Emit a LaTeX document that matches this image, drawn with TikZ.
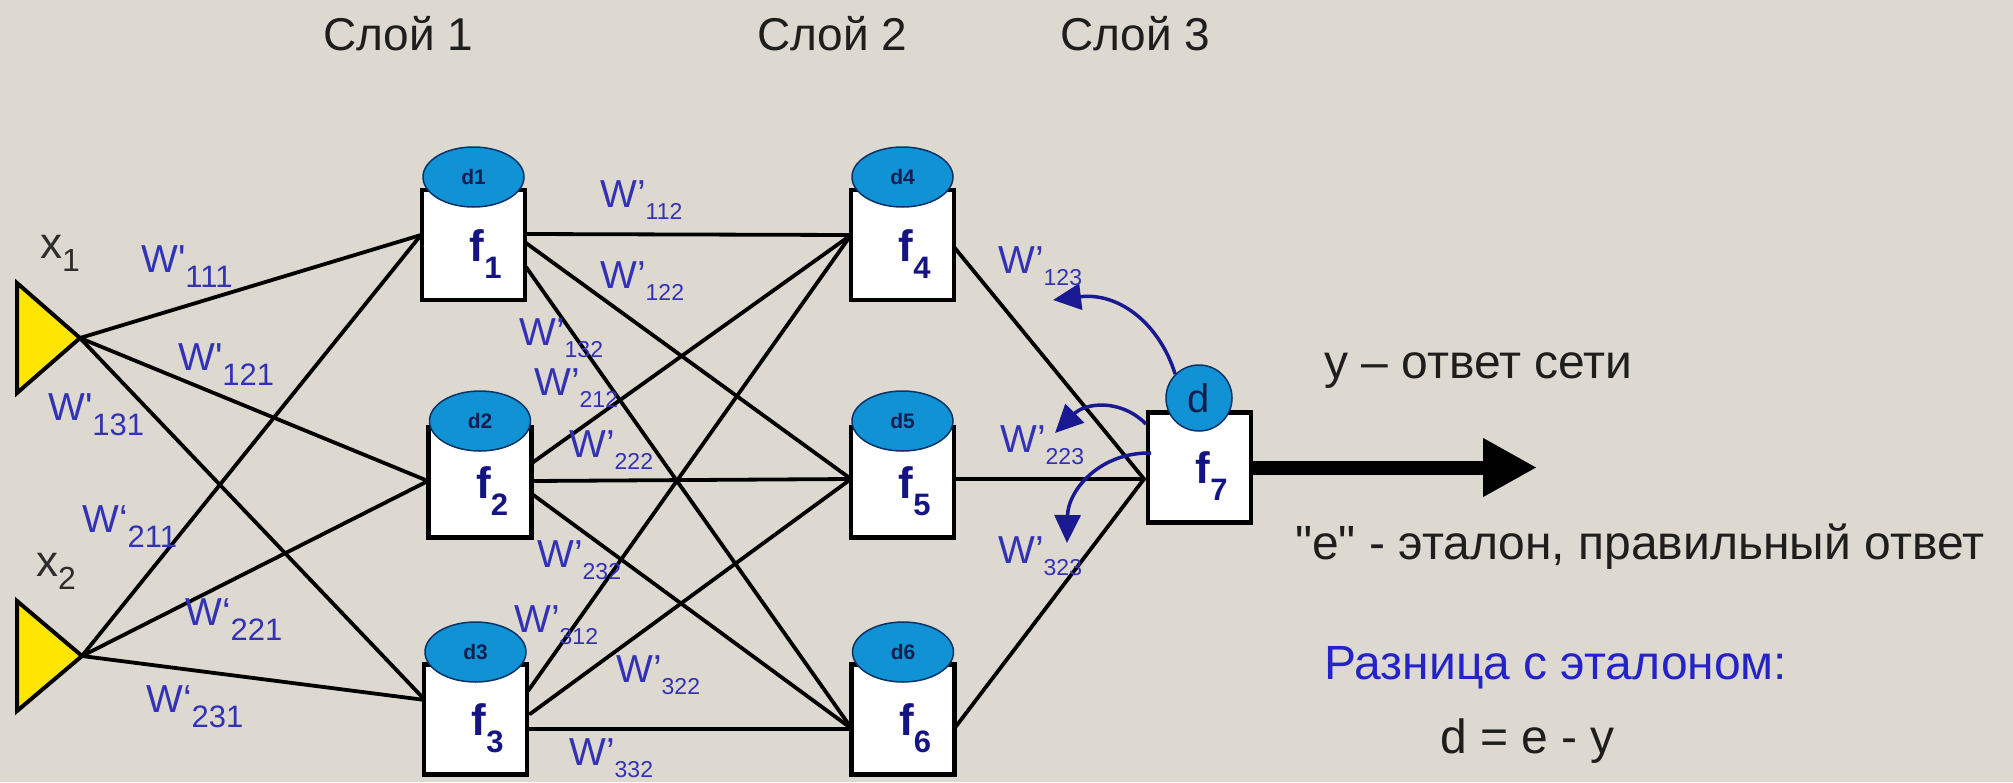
\documentclass[tikz,border=0pt]{standalone}
\usepackage{fontspec}
\setmainfont{Liberation Sans}
\usetikzlibrary{arrows.meta,shapes.geometric}
\pgfdeclarelayer{bgl}
\pgfdeclarelayer{wires}
\pgfsetlayers{bgl,wires,main}
\definecolor{bgc}{RGB}{222,217,208}
\definecolor{wblue}{RGB}{50,50,180}
\definecolor{fblue}{RGB}{20,20,130}
\definecolor{dfill}{RGB}{16,146,212}
\definecolor{dline}{RGB}{10,50,100}
\definecolor{dtext}{RGB}{20,30,80}
\definecolor{arcblue}{RGB}{25,25,145}
\definecolor{ttext}{RGB}{30,30,30}
\definecolor{xgray}{RGB}{45,45,45}
\definecolor{triy}{RGB}{255,230,0}
\definecolor{rblue}{RGB}{35,35,200}
\newcommand{\fsz}[1]{\fontsize{#1pt}{#1pt}\selectfont}
\newcommand{\wIn}[2]{{\fsz{39}W#1}\raisebox{-15pt}{\fsz{31}#2}}
\newcommand{\wHid}[1]{{\fsz{39}W’}\raisebox{-12pt}{\fsz{23}#1}}
\newcommand{\fLab}[1]{{\fsz{44}f}\raisebox{-17pt}{\fsz{31}#1}}
\newcommand{\xLab}[1]{{\fsz{44}x}\raisebox{-13pt}{\fsz{32}#1}}
\tikzset{
  fbox/.style={rectangle, draw=black, line width=4.2pt, fill=white, minimum width=103pt, minimum height=110pt, inner sep=0pt},
  dell/.style={ellipse, draw=dline, line width=1.5pt, fill=dfill, minimum width=101pt, minimum height=60pt, inner sep=0pt, text=dtext, font=\bfseries\fsz{21}},
  wire/.style={line width=3.8pt, draw=black, line cap=round},
  wl/.style={anchor=base west, inner sep=0pt, text=wblue},
  flab/.style={anchor=base west, inner sep=0pt, text=fblue, font=\bfseries},
  xlab/.style={anchor=base west, inner sep=0pt, text=xgray},
  tri/.style={draw=black, line width=4pt, fill=triy, line join=miter},
  plain/.style={anchor=base west, inner sep=0pt, text=ttext, font=\fsz{48}},
  ttl/.style={anchor=base west, inner sep=0pt, text=ttext, font=\fsz{46}},
  barc/.style={draw=arcblue, line width=3.5pt, -{Triangle[length=28pt,width=26pt]}},
}
\begin{document}
\begin{tikzpicture}[x=1pt,y=-1pt]
\begin{pgfonlayer}{bgl}
\fill[bgc] (0,0) rectangle (2013,782);
\end{pgfonlayer}
\useasboundingbox (0,0) rectangle (2013,782);

% titles
\node[ttl] (s1) at (323,50) {Слой 1};
\node[ttl] (s2) at (757,50) {Слой 2};
\node[ttl] (s3) at (1060,50) {Слой 3};

% inputs
\coordinate (t1) at (80,338);
\coordinate (t2) at (82,656);
\draw[tri] (17,283) -- (17,393) -- (t1) -- cycle;
\draw[tri] (17,601) -- (17,711) -- (t2) -- cycle;
\node[xlab] (x1) at (40,258) {\xLab{1}};
\node[xlab] (x2) at (36,576) {\xLab{2}};

% neurons
\node[fbox] (f1) at (473.5,245) {};
\node[fbox] (f2) at (480,482.5) {};
\node[fbox] (f3) at (475.5,719.5) {};
\node[fbox] (f4) at (902.5,245) {};
\node[fbox] (f5) at (902.5,482.5) {};
\node[fbox] (f6) at (903,719.5) {};
\node[fbox] (f7) at (1199.5,467.5) {};

\node[dell] (d1) at (473.5,177) {d1};
\node[dell] (d2) at (480,421) {d2};
\node[dell] (d3) at (475.5,652) {d3};
\node[dell] (d4) at (902.5,177) {d4};
\node[dell] (d5) at (902.5,421) {d5};
\node[dell] (d6) at (903,652) {d6};
\node[circle, draw=dline, line width=1.5pt, fill=dfill, minimum size=66pt, inner sep=0pt, text=dtext, font=\fsz{40}] (dc) at (1199,398) {d};

\node[flab] (fl1) at (469.5,261) {\fLab{1}};
\node[flab] (fl2) at (476,498.5) {\fLab{2}};
\node[flab] (fl3) at (471.5,735.5) {\fLab{3}};
\node[flab] (fl4) at (898.5,261) {\fLab{4}};
\node[flab] (fl5) at (898.5,498.5) {\fLab{5}};
\node[flab] (fl6) at (899,735.5) {\fLab{6}};
\node[flab] (fl7) at (1195.5,483.5) {\fLab{7}};

% connection points
\coordinate (f1i) at (421,235);
\coordinate (f2i) at (428,481);
\coordinate (f3i) at (425,700);
\coordinate (f1o4) at (526,234);
\coordinate (f1o5) at (526,243);
\coordinate (f1o6) at (526,267);
\coordinate (f2o4) at (532,463);
\coordinate (f2o5) at (532,481);
\coordinate (f2o6) at (532,494);
\coordinate (f3o4) at (528,691);
\coordinate (f3o5) at (530,714);
\coordinate (f3o6) at (528,729);
\coordinate (f4i) at (851,235);
\coordinate (f5i) at (851,479);
\coordinate (f6i) at (852,729);
\coordinate (f4o) at (954,247);
\coordinate (f5o) at (954,479);
\coordinate (f6o) at (954,729);
\coordinate (f7i) at (1144,479);
\coordinate (yend) at (1537,467.5);

\begin{pgfonlayer}{wires}
\foreach \s in {t1,t2}{
  \foreach \t in {f1i,f2i,f3i}{ \draw[wire] (\s) -- (\t); }
}
\draw[wire] (f1o4) -- (f4i);
\draw[wire] (f1o5) -- (f5i);
\draw[wire] (f1o6) -- (f6i);
\draw[wire] (f2o4) -- (f4i);
\draw[wire] (f2o5) -- (f5i);
\draw[wire] (f2o6) -- (f6i);
\draw[wire] (f3o4) -- (f4i);
\draw[wire] (f3o5) -- (f5i);
\draw[wire] (f3o6) -- (f6i);
\draw[wire] (f4o) -- (f7i);
\draw[wire] (f5o) -- (f7i);
\draw[wire] (f6o) -- (f7i);
\end{pgfonlayer}

% output arrow
\draw[line width=14pt, -{Triangle[length=54pt,width=55pt]}] (f7.east) -- (yend);

% back-propagation arcs
\coordinate (a1) at (1053,300);
\coordinate (a2) at (1055,433);
\coordinate (a3) at (1067,543);
\coordinate (s2a) at (1146,424);
\coordinate (s3a) at (1151,453);
\draw[barc] (dc.135) .. controls (1160,325) and (1120,292) .. (a1);
\draw[barc] (s2a) .. controls (1120,398) and (1085,403) .. (a2);
\draw[barc] (s3a) .. controls (1100,452) and (1068,490) .. (a3);

% weight labels
\node[wl] (w111) at (141,272) {\wIn{\textquotesingle}{111}};
\node[wl] (w121) at (178,370) {\wIn{\textquotesingle}{121}};
\node[wl] (w131) at (48,420) {\wIn{\textquotesingle}{131}};
\node[wl] (w211) at (82,532) {\wIn{‘}{211}};
\node[wl] (w221) at (185,625) {\wIn{‘}{221}};
\node[wl] (w231) at (146,712) {\wIn{‘}{231}};
\node[wl] (w112) at (600,207) {\wHid{112}};
\node[wl] (w122) at (600,288) {\wHid{122}};
\node[wl] (w132) at (519,345) {\wHid{132}};
\node[wl] (w212) at (534,395) {\wHid{212}};
\node[wl] (w222) at (569,457) {\wHid{222}};
\node[wl] (w232) at (537,567) {\wHid{232}};
\node[wl] (w312) at (514,632) {\wHid{312}};
\node[wl] (w322) at (616,682) {\wHid{322}};
\node[wl] (w332) at (569,765) {\wHid{332}};
\node[wl] (w123) at (998,273) {\wHid{123}};
\node[wl] (w223) at (1000,452) {\wHid{223}};
\node[wl] (w323) at (998,563) {\wHid{323}};

% right texts
\node[plain] (ans) at (1324,378) {y – ответ сети};
\node[plain] (etal) at (1295,559) {\textquotedbl e\textquotedbl{} - эталон, правильный ответ};
\node[plain, text=rblue] (razn) at (1324,679) {Разница с эталоном:};
\node[plain] (deq) at (1440,753) {d = e - y};
\end{tikzpicture}
\end{document}
